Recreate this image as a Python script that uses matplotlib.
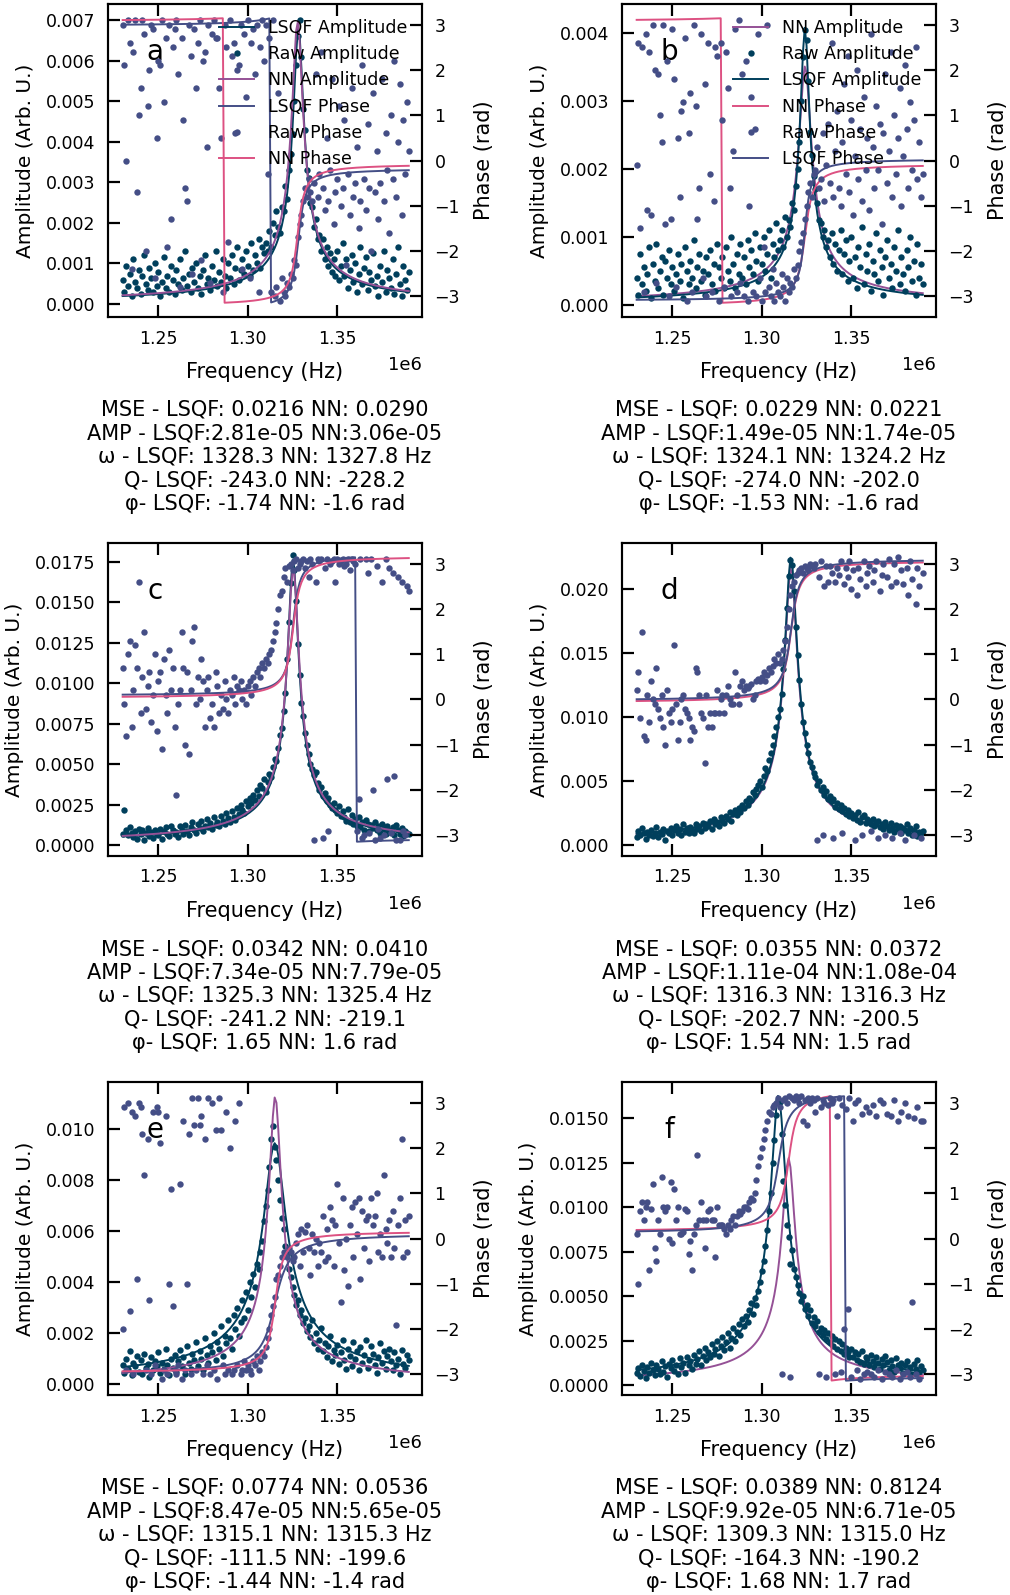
import numpy as np
import matplotlib
matplotlib.use("Agg")
import matplotlib.pyplot as plt
from matplotlib.ticker import MultipleLocator

# ---------------- data ----------------
freq_khz = np.arange(1230, 1391)          # measured frequency points (kHz)
panel_labels = ["a", "b", "c", "d", "e", "f"]

mse_lsqf = [0.0216, 0.0229, 0.0342, 0.0355, 0.0774, 0.0389]
mse_nn = [0.0290, 0.0221, 0.0410, 0.0372, 0.0536, 0.8124]
amp_lsqf = [2.81e-05, 1.49e-05, 7.34e-05, 1.11e-04, 8.47e-05, 9.92e-05]
amp_nn = [3.06e-05, 1.74e-05, 7.79e-05, 1.08e-04, 5.65e-05, 6.71e-05]
w_lsqf = [1328.3, 1324.1, 1325.3, 1316.3, 1315.1, 1309.3]
w_nn = [1327.8, 1324.2, 1325.4, 1316.3, 1315.3, 1315.0]
q_lsqf = [-243.0, -274.0, -241.2, -202.7, -111.5, -164.3]
q_nn = [-228.2, -202.0, -219.1, -200.5, -199.6, -190.2]
phi_lsqf = [-1.74, -1.53, 1.65, 1.54, -1.44, 1.68]
phi_nn = [-1.64, -1.64, 1.60, 1.50, -1.40, 1.72]

# raw amplitudes, in units of 1e-5 (Arb. U.)
raw_amp_a = [
    60, 30, 95, 45, 75, 20, 110, 55, 40, 85,
    25, 70, 120, 50, 35, 90, 65, 30, 100, 45,
    80, 20, 55, 115, 40, 70, 30, 95, 60, 25,
    85, 50, 110, 35, 65, 130, 45, 75, 30, 90,
    55, 100, 40, 70, 25, 85, 120, 50, 65, 35,
    95, 60, 130, 45, 80, 55, 110, 70, 40, 100,
    65, 120, 50, 90, 140, 60, 85, 110, 75, 130,
    95, 70, 150, 85, 120, 100, 160, 90, 140, 125,
    150, 130, 180, 140, 200, 170, 230, 190, 175, 240,
    230, 290, 260, 330, 370, 420, 500, 590, 660, 700,
    610, 480, 430, 330, 310, 250, 240, 190, 210, 160,
    170, 130, 160, 110, 140, 95, 125, 80, 110, 70,
    130, 60, 95, 150, 70, 110, 40, 85, 120, 55,
    100, 30, 75, 140, 50, 90, 115, 35, 80, 60,
    125, 45, 70, 20, 95, 55, 130, 30, 85, 65,
    40, 110, 25, 75, 140, 50, 20, 95, 60, 35,
    80]
raw_amp_b = [
    40, 15, 75, 30, 55, 20, 45, 85, 10, 60,
    35, 90, 25, 50, 70, 15, 65, 40, 80, 30,
    55, 20, 45, 75, 35, 60, 10, 85, 50, 30,
    65, 40, 95, 25, 55, 75, 35, 50, 15, 70,
    45, 80, 30, 60, 20, 90, 55, 40, 70, 25,
    85, 50, 35, 100, 60, 25, 75, 45, 90, 40,
    70, 30, 95, 55, 80, 45, 105, 65, 35, 85,
    60, 100, 50, 75, 110, 40, 90, 70, 120, 80,
    95, 110, 85, 130, 100, 125, 115, 150, 140, 175,
    200, 240, 300, 365, 405, 390, 330, 255, 220, 190,
    170, 150, 125, 120, 100, 110, 85, 95, 70, 105,
    60, 90, 50, 80, 110, 45, 75, 95, 35, 65,
    100, 40, 70, 25, 85, 55, 115, 30, 75, 50,
    90, 20, 65, 45, 105, 35, 80, 55, 15, 70,
    95, 40, 60, 25, 85, 50, 110, 30, 70, 45,
    20, 80, 55, 100, 35, 65, 15, 90, 40, 60,
    30]
raw_amp_c = [
    70, 215, 95, 60, 110, 75, 50, 85, 40, 100,
    65, 90, 30, 75, 105, 55, 80, 45, 95, 70,
    60, 100, 40, 85, 110, 70, 55, 120, 90, 65,
    80, 50, 115, 95, 70, 125, 85, 60, 110, 140,
    95, 75, 130, 105, 150, 85, 120, 160, 110, 135,
    100, 170, 125, 145, 115, 180, 150, 130, 195, 165,
    140, 210, 175, 155, 230, 190, 250, 215, 200, 270,
    240, 290, 260, 310, 280, 340, 300, 370, 350, 410,
    330, 390, 440, 420, 480, 530, 520, 600, 680, 720,
    830, 940, 1150, 1380, 1620, 1790, 1700, 1510, 1240, 1050,
    880, 800, 690, 620, 560, 500, 470, 430, 450, 380,
    340, 360, 300, 320, 270, 290, 250, 230, 260, 215,
    195, 240, 180, 210, 170, 150, 220, 140, 185, 130,
    160, 120, 175, 110, 145, 95, 155, 130, 85, 125,
    105, 140, 90, 115, 75, 130, 100, 65, 120, 95,
    80, 110, 60, 125, 90, 70, 105, 55, 85, 75,
    65]
raw_amp_d = [
    60, 110, 75, 130, 90, 50, 100, 80, 120, 70,
    95, 140, 65, 105, 85, 125, 40, 110, 90, 135,
    75, 115, 150, 95, 125, 80, 160, 105, 130, 90,
    140, 115, 95, 165, 125, 150, 110, 175, 135, 160,
    145, 185, 125, 205, 160, 180, 150, 215, 190, 170,
    225, 200, 255, 185, 240, 275, 230, 290, 260, 310,
    285, 340, 310, 370, 350, 410, 390, 440, 470, 500,
    455, 540, 600, 580, 660, 720, 780, 850, 920, 1000,
    1060, 1180, 1370, 1600, 1850, 2100, 2220, 2180, 1980, 1700,
    1480, 1290, 1100, 960, 870, 780, 720, 650, 610, 560,
    530, 470, 500, 430, 450, 390, 420, 360, 380, 340,
    355, 300, 330, 280, 310, 265, 290, 240, 275, 225,
    250, 210, 235, 195, 260, 180, 215, 230, 170, 200,
    185, 160, 205, 150, 175, 190, 140, 165, 125, 180,
    150, 115, 170, 135, 100, 155, 125, 145, 90, 130,
    115, 160, 95, 135, 80, 120, 145, 70, 105, 90,
    110]
raw_amp_e = [
    75, 45, 100, 60, 130, 35, 85, 70, 110, 50,
    95, 40, 120, 65, 80, 30, 105, 55, 90, 70,
    125, 45, 85, 60, 140, 75, 35, 100, 65, 115,
    50, 90, 135, 70, 105, 40, 150, 85, 60, 120,
    95, 165, 70, 130, 100, 55, 180, 115, 85, 150,
    125, 200, 95, 165, 140, 230, 110, 190, 160, 250,
    180, 140, 270, 215, 300, 190, 245, 330, 260, 360,
    290, 400, 340, 430, 380, 470, 450, 520, 560, 640,
    700, 760, 850, 960, 1010, 930, 880, 800, 720, 650,
    610, 540, 510, 450, 420, 380, 350, 310, 330, 270,
    290, 240, 260, 210, 230, 185, 250, 160, 200, 140,
    175, 220, 130, 160, 105, 150, 190, 90, 135, 115,
    155, 80, 125, 175, 95, 60, 140, 110, 70, 165,
    100, 130, 55, 145, 85, 115, 175, 65, 95, 150,
    120, 75, 45, 105, 160, 85, 130, 60, 110, 140,
    90, 55, 125, 75, 100, 40, 135, 80, 65, 115,
    95]
raw_amp_f = [
    65, 95, 50, 110, 80, 40, 100, 70, 125, 85,
    55, 115, 90, 60, 135, 75, 105, 45, 120, 95,
    140, 80, 110, 60, 150, 100, 125, 70, 160, 115,
    135, 90, 170, 120, 145, 190, 110, 165, 210, 140,
    185, 155, 230, 175, 200, 250, 165, 220, 270, 195,
    240, 290, 210, 265, 320, 250, 300, 345, 280, 370,
    330, 390, 355, 420, 460, 400, 490, 450, 530, 580,
    640, 700, 780, 870, 980, 1080, 1250, 1380, 1520, 1600,
    1590, 1410, 1150, 1010, 900, 830, 680, 760, 650, 610,
    560, 520, 470, 500, 430, 450, 390, 420, 350, 380,
    330, 360, 300, 320, 280, 310, 260, 295, 240, 275,
    220, 260, 205, 245, 190, 230, 175, 210, 185, 160,
    200, 155, 185, 140, 175, 130, 190, 120, 160, 145,
    115, 170, 135, 100, 155, 125, 90, 145, 110, 165,
    130, 85, 140, 105, 75, 150, 115, 95, 125, 70,
    110, 135, 80, 100, 60, 120, 90, 140, 75, 105,
    85]

# raw phases (rad)
raw_phase_a = [
    3.0, 2.1, 0.0, 3.1, 2.6, -2.4, 2.4, 3.1, -0.7, 1.0,
    1.6, 3.1, 2.8, -2.0, 1.2, 2.0, 3.0, 2.9, -2.6, 0.5,
    2.2, 2.1, 3.1, 1.3, 2.7, -1.9, 3.0, -1.3, 2.5, 2.9,
    3.1, 1.9, -2.8, 2.7, 0.9, -0.6, -0.9, 3.0, 2.3, -2.5,
    2.9, 1.6, 2.6, 3.1, -2.2, 2.2, 2.4, 0.3, 3.0, -2.7,
    2.8, 3.1, 2.7, 2.7, 1.6, 0.5, -2.9, 3.0, 2.5, -1.8,
    3.1, 2.3, 2.6, 0.6, 2.0, 2.1, 3.0, -2.4, 2.8, 1.4,
    3.1, -2.6, 2.6, 2.9, 1.9, 3.0, -2.9, 2.5, 3.1, 2.2,
    3.0, -0.3, 2.7, -2.9, 3.1, -3.0, -2.8, 1.5, -3.1, -2.6,
    -2.9, -3.0, -2.7, -2.8, -2.5, -2.6, -2.2, -2.3, -1.7, -1.4,
    -1.2, -0.9, -0.6, -0.8, -0.4, -0.7, -0.9, -0.5, 1.9, -0.8,
    -0.3, 2.4, -0.6, -1.1, 0.5, -0.9, -0.2, 1.8, -1.4, -0.7,
    -0.4, 1.2, -1.0, -0.6, 0.9, -2.3, -0.3, -1.2, 1.6, -0.8,
    -0.5, 0.3, -1.5, -0.9, 2.1, -0.4, -1.1, 0.8, -0.6, -2.0,
    1.5, -0.7, 0.2, -1.3, -0.5, 1.8, -0.9, 0.6, -0.2, -1.6,
    1.0, -0.4, 2.2, -0.8, 0.4, 1.7, -1.2, 0.9, -0.3, 1.3,
    0.2]
raw_phase_b = [
    -0.1, 2.6, -1.5, 2.5, -2.9, 2.8, -1.1, 2.4, -1.2, 3.0,
    2.0, -2.7, 1.9, 1.0, 0.4, 3.0, -1.4, 2.2, -3.0, -1.3,
    2.9, 1.8, -2.8, 0.5, -0.8, 1.1, 1.3, 2.7, -3.1, 0.6,
    1.5, -2.9, 3.0, 1.2, -1.3, -0.6, 2.8, -2.6, 1.7, -3.0,
    2.6, -0.3, -2.9, -0.9, 2.5, 2.3, -3.1, 2.6, 0.9, -2.8,
    2.4, 1.6, -0.6, -3.0, 0.2, 2.9, -2.9, 3.1, -2.7, 1.9,
    -3.0, 2.2, -3.1, -1.0, 1.4, -2.9, 0.7, -3.0, 2.8, -2.6,
    -3.1, -1.9, -2.9, 3.0, -2.8, -3.0, -2.4, -3.1, -2.7, -2.9,
    -3.0, -2.5, -2.8, -3.1, -2.6, -2.9, -2.7, -2.8, -2.4, -2.6,
    -2.3, -2.0, -1.8, -1.6, -1.3, -1.0, -0.7, -0.5, -0.8, -0.3,
    -0.2, 0.3, -0.6, -0.4, 0.6, -0.9, -0.1, 0.8, -0.5, 2.6,
    -0.8, 0.2, 1.1, -0.6, -1.0, 0.4, 1.7, -0.3, 2.3, -0.7,
    0.9, -1.2, 0.1, 2.0, -0.4, 0.7, -0.9, 1.4, -0.2, 0.5,
    -1.1, 2.8, 0.3, -0.6, 1.2, -0.2, 0.8, -1.4, 0.6, 1.9,
    -0.5, 0.2, 2.4, -0.8, 1.0, -0.3, 0.5, 1.6, -1.0, 0.1,
    2.1, 0.7, -0.6, 1.3, -0.2, 0.9, 2.5, -0.4, 0.4, -0.8,
    -0.3]
raw_phase_c = [
    0.7, -0.1, -0.8, 1.0, 1.3, -0.6, 0.2, 1.2, 0.7, 2.6,
    -0.3, 0.5, 1.5, -0.2, 0.3, 0.6, -0.5, 0.1, 1.0, -0.7,
    0.4, 0.6, -1.1, 0.9, 0.1, -0.3, 1.1, 0.2, 0.7, -0.6,
    -2.1, -0.1, 0.2, 1.5, 0.7, -1.0, 0.6, -1.2, 0.2, 1.3,
    1.6, -0.1, 0.5, 0.0, 0.9, 0.4, -0.6, 0.2, 0.5, -0.4,
    -0.1, -0.6, 0.6, 0.3, -0.3, 0.1, -0.2, 0.4, 0.0, -0.3,
    0.2, 0.1, 0.5, -0.1, 0.3, 0.2, 0.4, 0.0, 0.2, -0.1,
    0.3, 0.4, 0.1, 0.5, 0.3, 0.6, 0.7, 0.5, 0.8, 0.7,
    0.9, 0.8, 1.0, 1.1, 1.3, 1.5, 1.7, 2.0, 2.3, 2.4,
    2.7, 2.9, 2.6, 2.95, 3.0, 2.85, 3.05, 3.1, 2.9, 3.0,
    3.05, 3.1, 2.9, 3.05, 2.7, 3.1, 3.0, -3.1, 2.6, 3.1,
    3.05, 3.1, -3.05, 2.9, 3.1, -2.9, 3.0, 3.05, 3.1, 2.6,
    3.1, 3.0, 3.05, 3.1, 2.95, 3.0, 3.1, 2.85, 3.1, 3.05,
    3.0, -2.9, -2.2, 3.1, -3.05, -3.0, 3.1, 2.8, -2.95, 3.1,
    -2.0, -3.1, 2.95, -2.85, -3.05, 2.6, -3.0, 3.1, -1.75, 2.9,
    -2.95, 2.8, -1.7, -3.1, 2.7, -3.1, 2.6, -2.9, -3.0, 2.5,
    2.4]
raw_phase_d = [
    0.2, 0.6, -0.4, 1.5, -0.8, -0.9, 0.1, -0.5, 0.4, 0.0,
    -0.1, 0.7, -0.2, -0.4, 0.1, -0.6, -1.0, 0.2, -0.3, -0.5,
    -0.2, 1.2, -0.1, -0.9, -0.5, 0.0, 0.1, -0.2, -0.3, -0.4,
    -0.9, -0.6, -0.7, 0.7, 0.6, 0.1, -0.3, -0.4, -1.4, 0.1,
    -0.6, -0.3, -0.6, -0.3, -0.3, 0.2, -0.3, 0.0, 0.1, -0.3,
    0.1, 0.3, 0.0, -0.1, -0.1, 0.6, 0.1, -0.1, 0.3, 0.4,
    0.2, 0.3, 0.25, 0.3, 0.35, 0.0, 0.1, 0.4, 0.45, 0.4,
    0.5, 0.6, 0.4, 0.55, 0.7, 0.6, 0.75, 0.9, 0.8, 1.0,
    0.8, 0.9, 1.1, 1.3, 1.6, 2.0, 2.3, 2.5, 2.6, 2.75,
    2.8, 2.85, 2.9, 2.8, 2.95, 2.9, 2.85, 3.0, 2.95, 2.9,
    3.0, -3.1, 2.7, 3.05, -3.0, 2.5, 2.95, 2.6, 2.95, 2.8,
    -3.05, 2.6, 2.9, 2.75, 3.05, -2.95, 2.55, 2.9, 2.7, 3.05,
    2.45, 2.85, -3.1, 2.3, 2.9, 2.65, -3.0, 3.05, 2.5, 2.8,
    2.95, -2.9, 2.6, 2.85, 3.05, -3.05, 2.4, 2.75, 3.0, -3.0,
    2.7, 3.1, 2.5, -3.05, 3.0, 2.6, 3.15, -2.95, 2.85, 2.55,
    -3.1, 2.9, 2.3, 3.05, 2.65, -3.0, 2.1, 2.9, 2.5, -3.05,
    2.8]
raw_phase_e = [
    -2.0, 2.9, -2.9, 3.0, -1.6, 2.8, -3.0, 2.7, -0.9, 3.0,
    2.9, 2.3, 1.4, -2.9, 2.2, -1.35, -3.0, 2.8, -2.8, 2.9,
    2.8, 2.1, -3.1, -2.9, 2.7, -3.0, -1.0, 1.1, -1.5, -2.9,
    -3.0, -2.8, 1.2, -3.1, 2.6, -2.9, -1.0, 2.3, -3.0, 3.1,
    2.5, -2.9, 3.1, 2.5, 2.7, -3.0, 2.2, -2.8, 3.1, -3.0,
    3.0, -2.9, 2.4, -3.1, 3.1, 2.4, -2.8, -3.0, 2.8, -2.9,
    2.0, -3.0, -2.9, 2.6, -2.8, 3.0, -3.0, -2.9, -2.7, -2.9,
    -2.8, -2.9, -3.0, -2.7, -2.8, -2.6, -2.9, -2.7, -2.5, -2.6,
    -2.4, -2.2, -2.0, -1.7, -1.5, -1.3, -0.9, -0.8, -0.6, -0.4,
    -0.3, -0.35, -0.4, -0.2, -0.3, -0.5, -0.4, -0.1, 0.1, -0.6,
    0.2, -0.3, 0.15, 0.3, -0.2, -0.8, 0.1, -0.3, 0.0, -0.6,
    -0.1, -0.3, 0.5, -0.5, 0.2, -0.4, 0.7, 0.4, -0.6, 0.3,
    1.2, -0.1, -1.4, 0.9, -0.7, 0.0, -1.05, 0.3, 0.7, -0.4,
    0.8, 0.1, 0.9, -0.9, 0.6, -0.2, 0.4, 0.5, -0.5, 0.9,
    0.3, 0.5, 1.0, -0.3, 0.1, -0.4, 1.4, 0.2, -0.1, 0.4,
    -0.4, 0.6, -0.2, -1.9, 0.3, 0.9, 2.2, -0.4, 0.4, -0.3,
    0.5]
raw_phase_f = [
    0.1, -1.0, 0.6, 0.8, 0.4, 0.7, 0.8, -0.7, 0.65, 1.2,
    -0.2, -0.5, 0.4, 0.1, 1.35, 0.7, 0.6, 0.7, 0.0, 1.25,
    -0.1, 1.1, 0.4, 0.7, 0.1, 0.1, 0.15, 0.65, 0.6, -0.35,
    -0.05, -0.7, 0.1, 0.3, 1.85, 0.4, 0.8, 0.4, -0.2, 0.4,
    0.6, 0.65, 0.4, 0.4, -0.4, 0.7, 0.3, 0.3, 0.3, 0.2,
    0.1, 0.3, 0.2, 0.4, 0.5, 0.3, 0.5, 0.6, 0.55, 0.6,
    0.7, 0.7, 0.65, 0.8, 0.9, 0.85, 1.0, 1.3, 1.6, 1.8,
    2.0, 2.2, 2.4, 2.6, 2.8, 2.75, 2.9, 2.95, 3.0, 3.1,
    2.9, -3.0, 3.05, 3.1, 3.0, 3.15, -3.05, 3.1, 3.05, 3.15,
    3.1, 3.0, 3.15, 2.6, 3.05, 2.5, 3.1, 3.0, 3.1, 3.05,
    2.8, 3.1, -3.0, 2.9, 3.05, 3.0, -3.05, 2.95, 3.1, 3.0,
    3.05, -3.0, 2.7, 3.1, -2.95, 2.95, -2.0, 2.85, -1.55, 3.1,
    -3.05, 2.6, 3.0, -2.9, 3.05, -3.1, 2.75, -3.0, 2.9, -2.95,
    2.8, -3.0, 2.95, -3.05, 2.7, -2.9, 3.05, -3.1, 3.0, -2.95,
    2.75, -3.0, 2.7, -3.05, 3.05, -2.9, 2.6, -3.1, 2.8, -3.0,
    3.0, -2.95, 2.7, -3.05, -1.4, 2.65, -3.0, 2.9, -3.1, 2.6,
    2.6]

raw_amp = [raw_amp_a, raw_amp_b, raw_amp_c, raw_amp_d, raw_amp_e, raw_amp_f]
raw_phase = [raw_phase_a, raw_phase_b, raw_phase_c, raw_phase_d, raw_phase_e, raw_phase_f]
for r1, r2 in zip(raw_amp, raw_phase):
    assert len(r1) == len(freq_khz) and len(r2) == len(freq_khz)

# ---------------- style ----------------
C_LSQF_AMP = "#003f5c"
C_RAW_AMP = "#003f5c"
C_NN_AMP = "#955196"
C_LSQF_PH = "#444e86"
C_RAW_PH = "#444e86"
C_NN_PH = "#dd5182"

plt.rcParams.update({
    "font.family": ["DejaVu Sans"],
    "font.size": 12.5,
    "axes.linewidth": 1.5,
    "xtick.direction": "in", "ytick.direction": "in",
    "xtick.major.size": 8.5, "ytick.major.size": 8.5,
    "xtick.major.width": 1.6, "ytick.major.width": 1.6,
    "xtick.major.pad": 9, "ytick.major.pad": 9,
    "xtick.labelsize": 12.5, "ytick.labelsize": 12.5,
})

amp_ylims = [(-0.00032, 0.0074), (-0.00018, 0.00443), (-0.00068, 0.01866),
             (-0.00086, 0.02355), (-0.00042, 0.01184), (-0.00056, 0.01704)]
amp_steps = [0.001, 0.001, 0.0025, 0.005, 0.002, 0.0025]
orders = [["lsqf", "raw", "nn"], ["nn", "raw", "lsqf"], ["lsqf", "raw", "nn"],
          ["nn", "raw", "lsqf"], ["lsqf", "raw", "nn"], ["nn", "raw", "lsqf"]]
show_legend = [True, True, False, False, False, False]


def sho(fk, amp, w, q, phi):
    f = fk / 1e3
    w0 = w / 1e3
    a = amp * w0 ** 2 / np.sqrt((w0 ** 2 - f ** 2) ** 2 + (f * w0 / q) ** 2)
    theta = np.arctan2(f ** 2 - w0 ** 2, f * w0 / abs(q))
    ph = np.angle(np.exp(1j * (phi + theta)))
    return a, ph


W, H = 1010, 1595
fig = plt.figure(figsize=(W / 100, H / 100), dpi=100)
left_px = [108, 622]
bottom_px = [317, 856, 1395]
aw, ah = 314, 313
freq = freq_khz * 1e3
MS = 4.6
LW = 1.4

for i in range(6):
    col, row = i % 2, i // 2
    ax = fig.add_axes([left_px[col] / W, 1 - bottom_px[row] / H, aw / W, ah / H])
    ax2 = ax.twinx()
    la, lp = sho(freq_khz, amp_lsqf[i], w_lsqf[i], q_lsqf[i], phi_lsqf[i])
    na, npz = sho(freq_khz, amp_nn[i], w_nn[i], q_nn[i], phi_nn[i])
    ra = np.array(raw_amp[i]) * 1e-5
    rp = np.array(raw_phase[i])
    for key in orders[i]:
        if key == "lsqf":
            ax.plot(freq, la, color=C_LSQF_AMP, lw=LW, label="LSQF Amplitude")
        elif key == "raw":
            ax.plot(freq, ra, "o", ms=MS, mew=0, color=C_RAW_AMP, label="Raw Amplitude")
        else:
            ax.plot(freq, na, color=C_NN_AMP, lw=LW, label="NN Amplitude")
    for key in orders[i]:
        if key == "lsqf":
            ax2.plot(freq, lp, color=C_LSQF_PH, lw=LW, label="LSQF Phase")
        elif key == "raw":
            ax2.plot(freq, rp, "o", ms=MS, mew=0, color=C_RAW_PH, label="Raw Phase")
        else:
            ax2.plot(freq, npz, color=C_NN_PH, lw=LW, label="NN Phase")

    ax.set_xlim(1.2218e6, 1.3974e6)
    ax.set_ylim(*amp_ylims[i])
    ax.yaxis.set_major_locator(MultipleLocator(amp_steps[i]))
    ax.xaxis.set_major_locator(MultipleLocator(0.05e6))
    ax2.set_ylim(-3.456, 3.456)
    ax2.yaxis.set_major_locator(MultipleLocator(1))
    ax.tick_params(axis="x", top=True)
    for sp in ax2.spines.values():
        sp.set_linewidth(1.5)

    ax.set_xlabel("Frequency (Hz)", fontsize=15, labelpad=10.5)
    ax.set_ylabel("Amplitude (Arb. U.)", fontsize=14.5, labelpad=8)
    ax2.set_ylabel("Phase (rad)", fontsize=15, labelpad=10)
    ax.xaxis.get_offset_text().set_fontsize(13)
    ax.xaxis.OFFSETTEXTPAD = 6

    ax.text(0.15, 0.822, panel_labels[i], transform=ax.transAxes,
            ha="center", va="baseline", fontsize=20)

    if show_legend[i]:
        h1, l1 = ax.get_legend_handles_labels()
        h2, l2 = ax2.get_legend_handles_labels()
        ax2.legend(h1 + h2, l1 + l2, loc="upper right", frameon=False, fontsize=12.5,
                   borderaxespad=0.45, labelspacing=0.48)

    lines = [
        f"MSE - LSQF: {mse_lsqf[i]:.4f} NN: {mse_nn[i]:.4f}",
        f"AMP - LSQF:{amp_lsqf[i]:.2e} NN:{amp_nn[i]:.2e}",
        f"ω - LSQF: {w_lsqf[i]:.1f} NN: {w_nn[i]:.1f} Hz",
        f"Q- LSQF: {q_lsqf[i]:.1f} NN: {q_nn[i]:.1f}",
        f"φ- LSQF: {phi_lsqf[i]:.2f} NN: {phi_nn[i]:.1f} rad",
    ]
    xc = (left_px[col] + aw / 2) / W
    for j, line in enumerate(lines):
        y = 1 - (bottom_px[row] + 93 + 23.4 * j) / H
        fig.text(xc, y, line, ha="center", va="center", fontsize=15)

fig.savefig("out.png", dpi=100)
